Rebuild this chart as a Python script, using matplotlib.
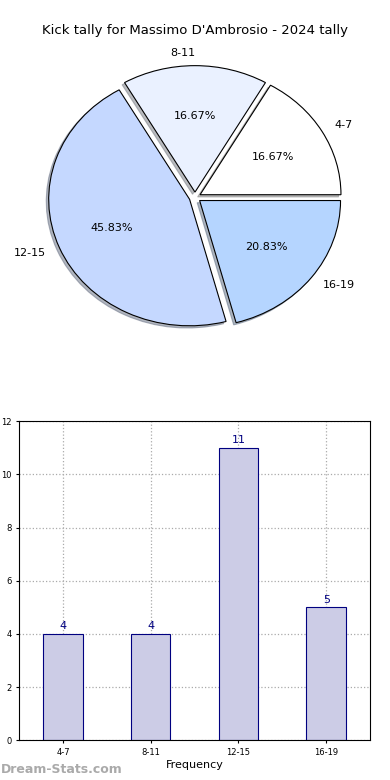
import matplotlib
matplotlib.use("Agg")
import matplotlib.pyplot as plt

# datos
categorias = ["4-7", "8-11", "12-15", "16-19"]
cuentas = [4, 4, 11, 5]
colores_pie = ["#ffffff", "#eaf1ff", "#c5d8ff", "#b5d5ff"]
titulo = "Kick tally for Massimo D'Ambrosio - 2024 tally"

fig = plt.figure(figsize=(3.9, 7.8), dpi=100)

# grafico de pastel
ax1 = fig.add_axes([0.032, 0.537, 0.936, 0.42])
ax1.pie(cuentas, labels=categorias, colors=colores_pie, autopct="%.2f%%",
        startangle=0, explode=[0.04] * 4, radius=0.965,
        shadow={"ox": -0.012, "oy": -0.012, "shade": 0.5},
        wedgeprops={"edgecolor": "black", "linewidth": 0.8},
        textprops={"fontsize": 8}, labeldistance=1.1)
ax1.set_aspect("auto")
ax1.set_xlim(-1.25, 1.25)
ax1.set_ylim(-1.25, 1.25)
fig.text(0.5, 0.961, titulo, ha="center", va="center", fontsize=9.5)

# grafico de barras
ax2 = fig.add_axes([0.049, 0.051, 0.9, 0.409])
x = range(len(categorias))
barras = ax2.bar(x, cuentas, width=0.45, color="#cccce6",
                 edgecolor="navy", linewidth=0.8, zorder=2)
for b, v in zip(barras, cuentas):
    ax2.text(b.get_x() + b.get_width() / 2, v + 0.1, str(v), ha="center",
             va="bottom", color="navy", fontsize=8)
ax2.set_xticks(list(x))
ax2.set_xticklabels(categorias)
ax2.set_xlim(-0.5, 3.5)
ax2.set_ylim(0, 12)
ax2.set_yticks(range(0, 13, 2))
ax2.tick_params(labelsize=6, length=2)
ax2.grid(True, linestyle=":", color="#aaaaaa", linewidth=0.9, zorder=0)
ax2.set_axisbelow(True)
ax2.set_xlabel("Frequency", fontsize=8, labelpad=2)
ax2.set_ylabel("Score Tally", fontsize=7, labelpad=1)

fig.text(0.003, 0.005, "Dream-Stats.com", color="#aaaaaa", fontsize=9,
         fontweight="bold", ha="left", va="bottom")

fig.savefig("out.png", dpi=100)
